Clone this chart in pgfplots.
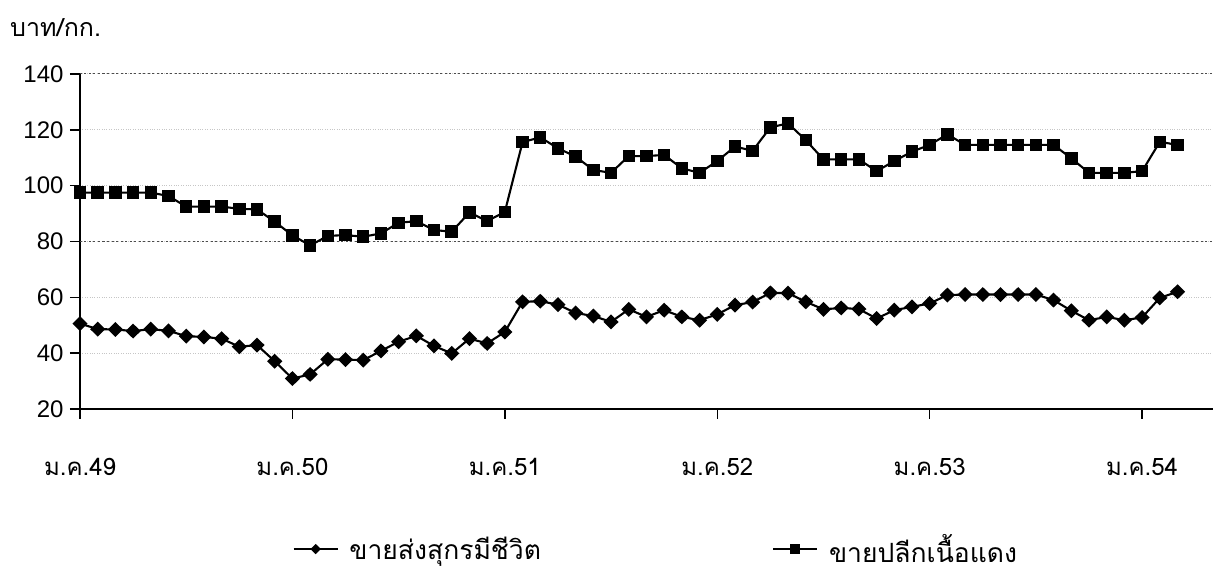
\documentclass[border=0pt]{standalone}
\usepackage{fontspec}
\setmainfont{Liberation Sans}
\newfontfamily\thaifont[Script=Thai]{Loma}
\usepackage{pgfplots}
\pgfplotsset{compat=1.18}
\usepackage{pgfplotstable}

\pgfplotstableread{
x y
0 50.6
1 48.6
2 48.5
3 47.9
4 48.6
5 48.0
6 46.1
7 45.8
8 45.2
9 42.3
10 42.9
11 37.1
12 30.9
13 32.4
14 37.8
15 37.7
16 37.5
17 40.8
18 44.1
19 46.2
20 42.6
21 39.9
22 45.2
23 43.5
24 47.6
25 58.4
26 58.6
27 57.4
28 54.4
29 53.3
30 51.2
31 55.7
32 53.0
33 55.4
34 53.0
35 51.8
36 53.9
37 57.2
38 58.3
39 61.6
40 61.5
41 58.4
42 55.7
43 56.2
44 55.8
45 52.4
46 55.4
47 56.6
48 57.8
49 60.8
50 61.0
51 61.0
52 61.0
53 61.0
54 61.0
55 59.0
56 55.2
57 51.8
58 53.0
59 51.8
60 52.8
61 59.8
62 62.0
}\wholesale

\pgfplotstableread{
x y
0 97.5
1 97.5
2 97.5
3 97.5
4 97.5
5 96.3
6 92.5
7 92.5
8 92.5
9 91.7
10 91.5
11 87.1
12 82.2
13 78.6
14 82.0
15 82.3
16 81.7
17 82.9
18 86.7
19 87.3
20 84.1
21 83.5
22 90.4
23 87.3
24 90.6
25 115.6
26 117.3
27 113.4
28 110.4
29 105.6
30 104.6
31 110.6
32 110.6
33 111.0
34 106.2
35 104.6
36 108.8
37 114.0
38 112.5
39 120.9
40 122.3
41 116.3
42 109.4
43 109.4
44 109.4
45 105.2
46 108.8
47 112.2
48 114.6
49 118.4
50 114.6
51 114.6
52 114.6
53 114.6
54 114.6
55 114.6
56 109.8
57 104.6
58 104.6
59 104.6
60 105.2
61 115.7
62 114.6
}\retail

\begin{document}
\begin{tikzpicture}
\useasboundingbox (0,0) rectangle (1213pt,572pt);
\begin{axis}[
  at={(80pt,163pt)}, anchor=south west,
  scale only axis, width=1133pt, height=335pt,
  xmin=0, xmax=64, ymin=20, ymax=140,
  axis lines*=left,
  axis line style={black, line width=1.4pt},
  tick align=outside,
  major tick length=10pt,
  every tick/.style={black, line width=1.4pt},
  /pgf/number format/assume math mode=true,
  ytick={20,40,60,80,100,120,140},
  xtick={0,12,24,36,48,60},
  xticklabels={ม.ค.49,ม.ค.50,ม.ค.51,ม.ค.52,ม.ค.53,ม.ค.54},
  y tick label style={font=\fontsize{24}{24}\selectfont, xshift=-3pt},
  x tick label style={font=\thaifont\fontsize{24}{24}\selectfont, yshift=-36pt},
  ymajorgrids,
  major grid style={gray!45, dotted, line width=1pt},
  extra y ticks={80,140},
  extra y tick labels={},
  extra tick style={major tick length=0pt, grid=major, major grid style={black!70, dash pattern=on 2pt off 2.5pt, line width=1pt}},
  ylabel={\thaifont\fontsize{25}{25}\selectfont บาท/กก.},
  ylabel style={rotate=-90, anchor=west, inner sep=0pt, at={(axis description cs:-0.0618,1.140)}},
  legend columns=2,
  legend style={draw=none, fill=none, at={(axis description cs:0.1877,-0.418)}, anchor=west,
    font=\thaifont\fontsize{26.5}{26.5}\selectfont, inner sep=0pt,
    /tikz/every even column/.append style={column sep=0pt}},
  legend cell align=left,
  legend image code/.code={\draw[mark repeat=2, mark phase=2, line width=1.6pt, mark size=4pt] plot coordinates {(0pt,0pt) (22pt,0pt) (44pt,0pt)};},
]
\addplot[black, line width=2.1pt, mark=diamond*, mark size=6pt, mark options={xscale=1.35}] table[x=x,y=y] {\wholesale};
\addlegendentry{\makebox[430pt][l]{\hspace*{9pt}ขายส่งสุกรมีชีวิต}}
\addplot[black, line width=2.1pt, mark=square*, mark size=5.2pt] table[x=x,y=y] {\retail};
\addlegendentry{\hspace*{9pt}ขายปลีกเนื้อแดง}
\end{axis}
\end{tikzpicture}
\end{document}
